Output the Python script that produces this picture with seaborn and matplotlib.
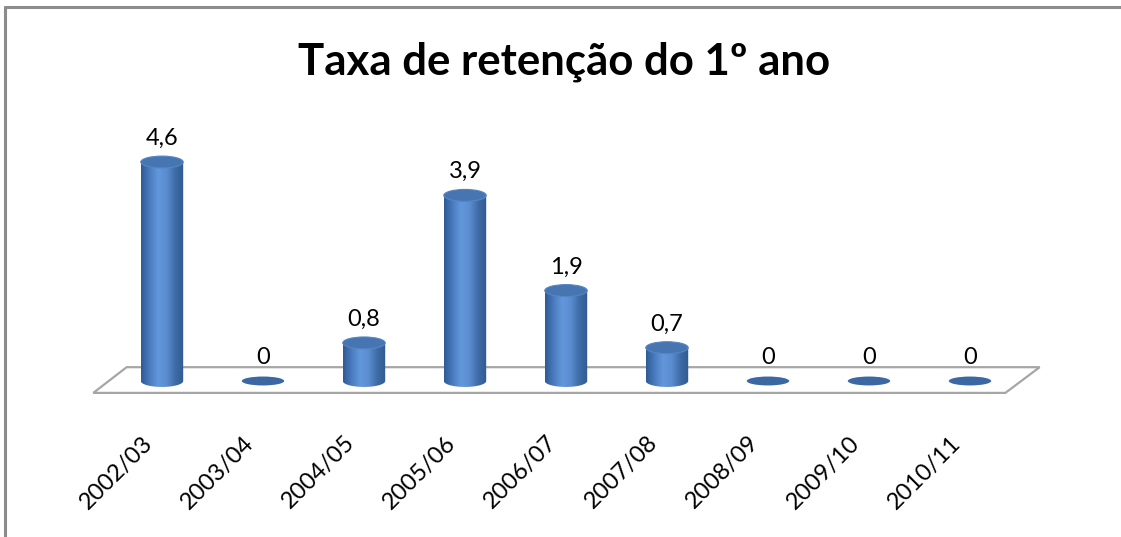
import numpy as np
import matplotlib
matplotlib.use("Agg")
import matplotlib.pyplot as plt
import matplotlib.transforms as mtransforms
from matplotlib.patches import Ellipse, Polygon, PathPatch
from matplotlib.path import Path
from matplotlib.colors import LinearSegmentedColormap
from matplotlib.lines import Line2D
import seaborn as sns

# data
seasons = ["2002/03", "2003/04", "2004/05", "2005/06", "2006/07",
           "2007/08", "2008/09", "2009/10", "2010/11"]
rates = [4.6, 0, 0.8, 3.9, 1.9, 0.7, 0, 0, 0]
labels = ["4,6", "0", "0,8", "3,9", "1,9", "0,7", "0", "0", "0"]

sns.set_theme(style="white")
plt.rcParams["font.family"] = ["Lato", "DejaVu Sans"]

fig = plt.figure(figsize=(11.21, 5.37), dpi=100)
ax = fig.add_axes([0.0544, 0.2462, 0.901, 0.4875])

bar_w = 0.42
sns.barplot(x=seasons, y=rates, width=bar_w, color="#4F81BD", ax=ax,
            edgecolor="none", zorder=3)

# cylinder shading
cyl = LinearSegmentedColormap.from_list(
    "cyl", ["#2e5a94", "#4a7bbf", "#6397dc", "#5a8cd0", "#3f6ca8", "#30598f"])
grad = np.linspace(0, 1, 256).reshape(1, -1)
ell_h = 0.25

for patch in list(ax.patches):
    x0 = patch.get_x()
    w = patch.get_width()
    h = patch.get_height()
    xc = x0 + w / 2
    patch.set_visible(False)
    if h <= 0:
        ax.add_patch(Ellipse((xc, 0), w, ell_h * 0.75, facecolor="#3b68a3",
                             edgecolor="none", zorder=4))
        continue
    t = np.linspace(np.pi, 2 * np.pi, 40)
    arc = np.column_stack([xc + w / 2 * np.cos(t), ell_h / 2 * np.sin(t)])
    verts = np.vstack([[x0, h], [x0, 0], arc, [x0 + w, h], [x0, h]])
    codes = [Path.MOVETO] + [Path.LINETO] * (len(verts) - 2) + [Path.CLOSEPOLY]
    clip = PathPatch(Path(verts, codes), transform=ax.transData)
    im = ax.imshow(grad, extent=[x0, x0 + w, -ell_h, h], aspect="auto",
                   cmap=cyl, zorder=4, interpolation="bicubic")
    im.set_clip_path(clip)
    ax.add_patch(Ellipse((xc, h), w, ell_h, facecolor="#4675b2",
                         edgecolor="#5585c4", linewidth=0.8, zorder=5))

# floor
n = len(seasons)
floor = Polygon([(-0.68, -0.25), (n - 1 + 0.35, -0.25),
                 (n - 1 + 0.69, 0.29), (-0.35, 0.29)],
                closed=True, facecolor="white", edgecolor="#a6a6a6",
                linewidth=1.6, zorder=1)
ax.add_patch(floor)

for i, (v, lab) in enumerate(zip(rates, labels)):
    ax.annotate(lab, (i, v), xytext=(0, 17), textcoords="offset points",
                ha="center", va="center", fontsize=17, color="black",
                zorder=6)

ax.set_xlim(-1, 9)
ax.set_ylim(-0.5, 5.0)
ax.set_yticks([])
for s in ax.spines.values():
    s.set_visible(False)

ax.set_xticks(range(n))
ax.set_xticklabels(seasons, rotation=45, ha="right", va="center",
                   rotation_mode="anchor", fontsize=17, color="black")
ax.tick_params(axis="x", length=0, pad=25)
shift = mtransforms.ScaledTranslation(-0.13, 0, fig.dpi_scale_trans)
for lbl in ax.get_xticklabels():
    lbl.set_transform(lbl.get_transform() + shift)

fig.text(0.503, 0.885, "Taxa de retenção do 1º ano", ha="center",
         va="center", fontsize=31.5, fontweight="bold", color="black")

# chart area border (left and top)
fig.add_artist(Line2D([0.0045, 0.0045], [0, 0.987], color="#8c8c8c",
                      linewidth=2.2, transform=fig.transFigure))
fig.add_artist(Line2D([0.0045, 1.0], [0.987, 0.987], color="#8c8c8c",
                      linewidth=2.2, transform=fig.transFigure))

fig.savefig("out.png", dpi=100, facecolor="white")
